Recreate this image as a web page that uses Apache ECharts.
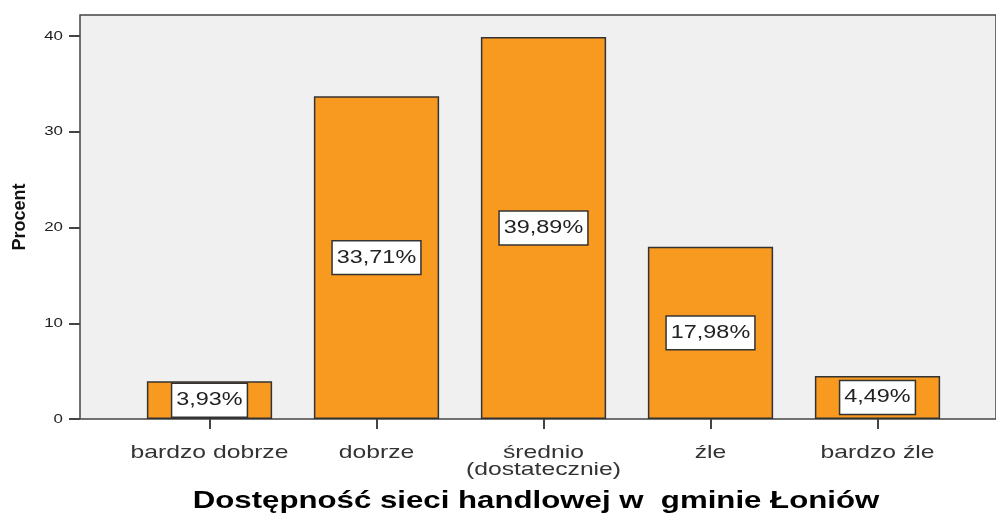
<!DOCTYPE html>
<html>
<head>
<meta charset="utf-8">
<script src="https://cdn.jsdelivr.net/npm/echarts@6/dist/echarts.min.js"></script>
<style>html,body{margin:0;padding:0;background:#fff}#c{width:996px;height:515px}</style>
</head>
<body>
<div id="c"></div>
<script>
const categories = ['bardzo dobrze', 'dobrze', 'średnio\n(dostatecznie)', 'źle', 'bardzo źle'];
const values = [3.93, 33.71, 39.89, 17.98, 4.49];
const labels = ['3,93%', '33,71%', '39,89%', '17,98%', '4,49%'];
const yTicks = [0, 10, 20, 30, 40];
const titleText = 'Dostępność sieci handlowej w  gminie Łoniów';
const yName = 'Procent';

// The reference image is horizontally stretched: draw horizontal text wider.
const STRETCH = 1.3;
const mctx = document.createElement('canvas').getContext('2d');
echarts.setPlatformAPI({
  measureText(text, font) {
    mctx.font = font || '12px sans-serif';
    return {width: mctx.measureText(text).width * STRETCH};
  }
});
['fillText', 'strokeText'].forEach(fn => {
  const orig = CanvasRenderingContext2D.prototype[fn];
  CanvasRenderingContext2D.prototype[fn] = function (t, x, y, maxW) {
    const m = this.getTransform();
    if (Math.abs(m.b) > 1e-6 || Math.abs(m.c) > 1e-6) {
      return orig.call(this, t, x, y);
    }
    this.save();
    this.translate(x, y);
    this.scale(STRETCH, 1);
    orig.call(this, t, 0, 0);
    this.restore();
  };
});

const FONT = '"Liberation Sans", Arial, sans-serif';
const chart = echarts.init(document.getElementById('c'), null, {renderer: 'canvas'});
chart.setOption({
  animation: false,
  backgroundColor: '#ffffff',
  title: {
    text: titleText, left: 536, top: 486, textAlign: 'center', padding: 0,
    textStyle: {fontFamily: FONT, fontWeight: 'bold', fontSize: 24, color: '#000'}
  },
  grid: [
    {left: 80, right: -5, top: 15, bottom: 96, show: true, backgroundColor: '#f0f0f0', borderColor: '#444', borderWidth: 1.5},
    {left: 126, right: 35, top: 36, bottom: 96, show: false},
    {left: 80, right: -5, top: 36, bottom: 96, show: false}
  ],
  xAxis: [
    {type: 'category', gridIndex: 0, data: ['a'], show: false},
    {type: 'category', gridIndex: 1, data: categories,
     axisLine: {show: false},
     axisTick: {show: true, alignWithLabel: true, length: 10, lineStyle: {color: '#444', width: 2}},
     axisLabel: {interval: 0, hideOverlap: false, fontFamily: FONT, fontSize: 19, color: '#333', margin: 25, lineHeight: 17},
     splitLine: {show: false}},
    {type: 'category', gridIndex: 2, data: ['a'], show: false}
  ],
  yAxis: [
    {type: 'value', gridIndex: 0, min: 0, max: 1,
     name: yName, nameLocation: 'middle', nameGap: 48, nameRotate: 90,
     nameTextStyle: {fontFamily: FONT, fontWeight: 'bold', fontSize: 18, color: '#111'},
     axisLine: {show: false}, axisTick: {show: false}, axisLabel: {show: false},
     splitLine: {show: false}},
    {type: 'value', gridIndex: 1, min: 0, max: 40, interval: 10, show: false, splitLine: {show: false}},
    {type: 'value', gridIndex: 2, min: 0, max: 40, interval: 10,
     axisLine: {show: false},
     axisTick: {show: true, length: 11, lineStyle: {color: '#444', width: 2}},
     axisLabel: {fontFamily: FONT, fontSize: 13, color: '#222', margin: 17,
       formatter: v => (yTicks.indexOf(v) >= 0 ? String(v) : '')},
     splitLine: {show: false}}
  ],
  series: [{
    type: 'bar', xAxisIndex: 1, yAxisIndex: 1,
    data: values,
    barCategoryGap: '25%',
    itemStyle: {color: '#f89a1f', borderColor: '#333', borderWidth: 1.5},
    label: {
      show: true, position: 'inside',
      formatter: p => labels[p.dataIndex],
      fontFamily: FONT, fontSize: 18, color: '#222',
      backgroundColor: '#fff', borderColor: '#333', borderWidth: 1.5, padding: [5, 4, 4, 4]
    }
  }]
});
</script>
</body>
</html>
